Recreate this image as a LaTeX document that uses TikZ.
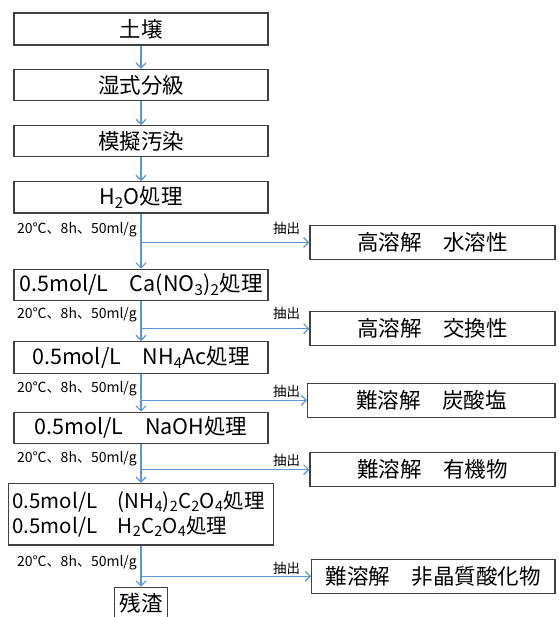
\documentclass[tikz,border=0pt]{standalone}
\usepackage{fontspec}
\setmainfont{Noto Sans CJK JP}
\usetikzlibrary{arrows.meta}
\definecolor{boxc}{RGB}{64,64,64}
\definecolor{arrc}{RGB}{91,150,210}
\begin{document}
\begin{tikzpicture}[x=1pt,y=-1pt,
  box/.style={draw=boxc, line width=1.2pt, fill=white, inner sep=0pt, font=\fontsize{21.5}{25}\selectfont},
  flow/.style={draw=arrc, line width=1.2pt, -{Straight Barb[length=5pt,width=10pt]}},
  cond/.style={anchor=west, inner sep=0pt, font=\fontsize{14}{16}\selectfont},
  ext/.style={anchor=west, inner sep=0pt, font=\fontsize{13.5}{15}\selectfont}]
\useasboundingbox (0,0) rectangle (558,617);
\clip (0,0) rectangle (558,617);
% left column
\node[box, minimum width=254pt, minimum height=32pt] (soil) at (141,29) {土壌};
\node[box, minimum width=254pt, minimum height=31pt] (wet) at (141,85) {湿式分級};
\node[box, minimum width=254pt, minimum height=31pt] (mock) at (141,141.2) {模擬汚染};
\node[box, minimum width=254pt, minimum height=31.3pt] (h2o) at (141,197.3) {H\textsubscript{2}O処理};
\node[box, minimum width=254pt, minimum height=31.4pt] (ca) at (141,285) {0.5mol/L　Ca(NO\textsubscript{3})\textsubscript{2}処理};
\node[box, minimum width=254pt, minimum height=31.6pt] (nh) at (141,357.5) {0.5mol/L　NH\textsubscript{4}Ac処理};
\node[box, minimum width=254pt, minimum height=31pt] (naoh) at (141,427.8) {0.5mol/L　NaOH処理};
\node[box, minimum width=265.2pt, minimum height=61.7pt, text width=257pt, inner xsep=4pt, align=left, font=\fontsize{20.5}{25}\selectfont] (ox) at (141,514.2) {0.5mol/L　(NH\textsubscript{4})\textsubscript{2}C\textsubscript{2}O\textsubscript{4}処理\\0.5mol/L　H\textsubscript{2}C\textsubscript{2}O\textsubscript{4}処理};
\node[box, minimum width=53.4pt, minimum height=32pt] (res) at (141,603.3) {残渣};
% right column
\node[box, minimum width=245pt, minimum height=33.6pt] (r1) at (432.5,242.5) {高溶解　水溶性};
\node[box, minimum width=245pt, minimum height=34pt] (r2) at (432.5,328.7) {高溶解　交換性};
\node[box, minimum width=247.3pt, minimum height=34pt] (r3) at (431.35,400.3) {難溶解　炭酸塩};
\node[box, minimum width=245pt, minimum height=34pt] (r4) at (432.5,469.7) {難溶解　有機物};
\node[box, minimum width=243.3pt, minimum height=34pt] (r5) at (433.35,576.3) {難溶解　非晶質酸化物};
% vertical flow
\draw[flow] (soil) -- (wet);
\draw[flow] (wet) -- (mock);
\draw[flow] (mock) -- (h2o);
\draw[flow] (h2o) -- (ca);
\draw[flow] (ca) -- (nh);
\draw[flow] (nh) -- (naoh);
\draw[flow] (naoh) -- (ox);
\draw[flow] (ox) -- (res);
% branches
\coordinate (j1) at (h2o.south |- r1.west);
\coordinate (j2) at (ca.south |- r2.west);
\coordinate (j3) at (nh.south |- r3.west);
\coordinate (j4) at (naoh.south |- r4.west);
\coordinate (j5) at (ox.south |- r5.west);
\draw[flow] (j1) -- (r1);
\draw[flow] (j2) -- (r2);
\draw[flow] (j3) -- (r3);
\draw[flow] (j4) -- (r4);
\draw[flow] (j5) -- (r5);
% conditions
\node[cond] (c1) at (17,230) {20℃、8h、50ml/g};
\node[cond] (c2) at (17,315) {20℃、8h、50ml/g};
\node[cond] (c3) at (17,388.5) {20℃、8h、50ml/g};
\node[cond] (c4) at (17,459) {20℃、8h、50ml/g};
\node[cond] (c5) at (17,562.7) {20℃、8h、50ml/g};
% extraction labels
\node[ext] (e1) at (273,228) {抽出};
\node[ext] (e2) at (273,313.5) {抽出};
\node[ext] (e3) at (273,391.7) {抽出};
\node[ext] (e4) at (273,460) {抽出};
\node[ext] (e5) at (273,568) {抽出};
\end{tikzpicture}
\end{document}
